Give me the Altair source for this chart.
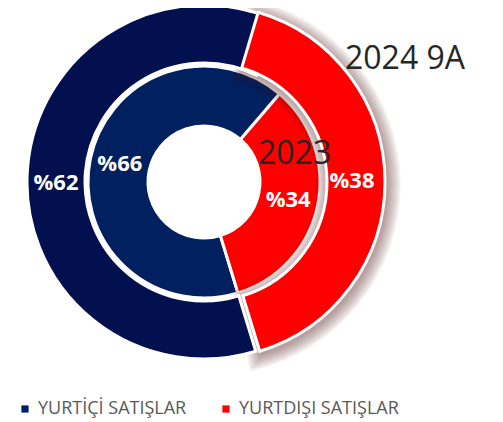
import math
import altair as alt
import pandas as pd

# ---- data -------------------------------------------------------------
categories = ["YURTİÇİ SATIŞLAR", "YURTDIŞI SATIŞLAR"]
outer_values = [62, 38]          # 2024 9A (outer ring)
inner_values = [66, 34]          # 2023 (inner ring)
outer_labels = ["%62", "%38"]
inner_labels = ["%66", "%34"]
annotations = ["2024 9A", "2023"]

outer = pd.DataFrame({"cat": categories, "value": outer_values,
                      "label": outer_labels, "order": [0, 1]})
inner = pd.DataFrame({"cat": categories, "value": inner_values,
                      "label": inner_labels, "order": [0, 1]})

# ---- styling ------------------------------------------------------------
FONT = "Open Sans"
CX, CY = 196, 174
START = math.radians(163)
NAVY_OUT = "#03104f"
NAVY_IN = "#002060"
RED = "#FF0000"
EXPLODE = 4
R_OUT, R_OUT_IN = 177, 119
R_IN, R_HOLE = 116, 56
RED_START_OFF = -0.17   # visual widening of the exploded slice at its start edge (rad)

theta_scale = alt.Scale(domain=[0, 100], range=[START, START + 2 * math.pi])
theta = alt.Theta("value:Q", stack=True, scale=theta_scale)
order = alt.Order("order:Q", sort="ascending")
px = alt.value(CX)
py = alt.value(CY)
is_red = alt.datum.order == 1
is_navy = alt.datum.order == 0

# inner ring (drives the legend)
inner_arc = alt.Chart(inner).mark_arc(radius=R_IN, radius2=R_HOLE, stroke="white", strokeWidth=3).encode(
    theta=theta, order=order, x=px, y=py,
    color=alt.Color("cat:N", scale=alt.Scale(domain=categories, range=[NAVY_IN, RED]),
                    legend=alt.Legend(title=None, orient="none", legendX=8, legendY=392,
                                      direction="horizontal", symbolType="square", symbolSize=52,
                                      symbolStrokeWidth=0, labelFont=FONT, labelFontSize=18,
                                      labelColor="#595959", columnPadding=30, labelOffset=4)),
)

# outer ring with explicit start / end (cumulative) for the exploded red slice
outer_cum = alt.Chart(outer).transform_window(
    cum="sum(value)", sort=[alt.SortField("order", order="ascending")]
).transform_calculate(start="datum.cum - datum.value").transform_filter(is_red)

# blurred shadow: many faint, progressively larger copies
shadows = []
for k in range(1, 15):
    shadows.append(
        outer_cum.mark_arc(radius=R_OUT + k, radius2=R_OUT_IN - k,
                           thetaOffset=RED_START_OFF - k / 160.0, theta2Offset=k / 160.0,
                           xOffset=EXPLODE + 2, yOffset=3, fill="#4a1010", opacity=0.036).encode(
            theta=alt.Theta("start:Q", scale=theta_scale), theta2="cum:Q", x=px, y=py,
        )
    )

outer_navy = alt.Chart(outer).mark_arc(radius=R_OUT, radius2=R_OUT_IN, stroke="white", strokeWidth=3).encode(
    theta=theta, order=order, x=px, y=py,
    color=alt.condition(is_navy, alt.value(NAVY_OUT), alt.value(RED)),
    opacity=alt.condition(is_navy, alt.value(1), alt.value(0)),
)
outer_red = outer_cum.mark_arc(radius=R_OUT, radius2=R_OUT_IN, stroke="white", strokeWidth=3,
                               thetaOffset=RED_START_OFF, xOffset=EXPLODE, fill=RED).encode(
    theta=alt.Theta("start:Q", scale=theta_scale), theta2="cum:Q", x=px, y=py,
)

outer_text = alt.Chart(outer).mark_text(radius=148, font=FONT, fontSize=22, fontWeight="bold",
                                        color="white", thetaOffset=RED_START_OFF / 2).encode(
    theta=theta, order=order, x=px, y=py, text="label:N")
inner_text = alt.Chart(inner).mark_text(radius=86, font=FONT, fontSize=22, fontWeight="bold",
                                        color="white").encode(
    theta=theta, order=order, x=px, y=py, text="label:N")

ann_outer = alt.Chart(pd.DataFrame({"t": [annotations[0]]})).mark_text(
    font=FONT, fontSize=32, color="#262626", align="left", baseline="alphabetic").encode(
    text="t:N", x=alt.value(337), y=alt.value(61))
ann_inner = alt.Chart(pd.DataFrame({"t": [annotations[1]]})).mark_text(
    font=FONT, fontSize=32, color="#262626", align="left", baseline="alphabetic").encode(
    text="t:N", x=alt.value(250), y=alt.value(156))

chart = alt.layer(inner_arc, *shadows, outer_navy, outer_red, outer_text, inner_text,
                  ann_outer, ann_inner).properties(
    width=487, height=412, padding=0, autosize="none"
).configure_view(stroke=None)

chart.save("out.html", embed_options={"renderer": "svg", "actions": False})
